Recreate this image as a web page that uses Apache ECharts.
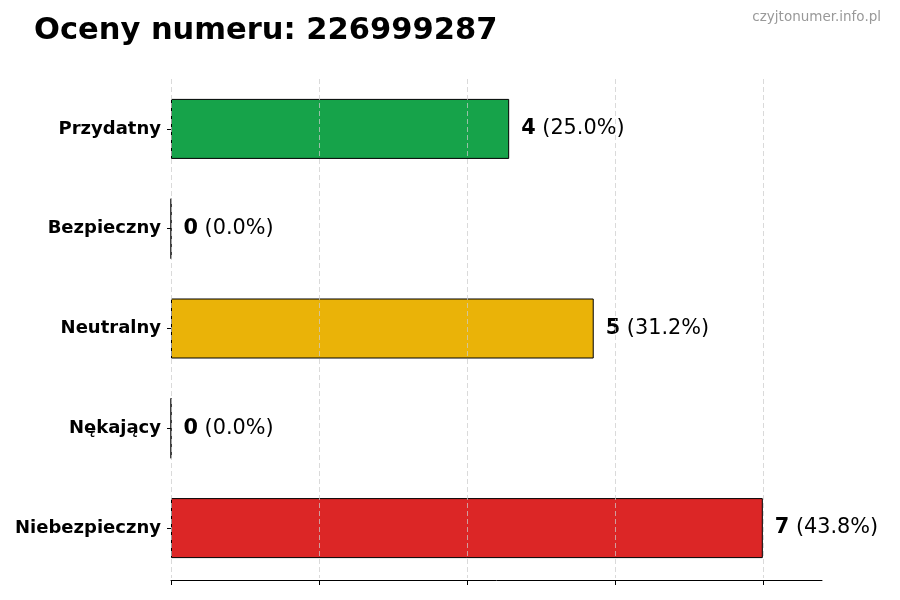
<!DOCTYPE html>
<html><head><meta charset="utf-8">
<script src="https://cdn.jsdelivr.net/npm/echarts@6/dist/echarts.min.js"></script>
<style>html,body{margin:0;padding:0;background:#fff}#c{width:900px;height:600px}</style>
</head><body><div id="c"></div>
<script>
const categories = ['Przydatny', 'Bezpieczny', 'Neutralny', 'Nękający', 'Niebezpieczny'];
const counts = [4, 0, 5, 0, 7];
const percents = ['25.0%', '0.0%', '31.2%', '0.0%', '43.8%'];
const colors = ['#16a34a', '#16a34a', '#eab308', '#dc2626', '#dc2626'];
const xTicks = [0, 1.75, 3.5, 5.25, 7];

const chart = echarts.init(document.getElementById('c'));
chart.setOption({
  animation: false,
  title: [
    { text: 'Oceny numeru: 226999287', left: 34, top: 16, padding: 0,
      textStyle: { fontFamily: 'DejaVu Sans', fontWeight: 'bold', fontSize: 30.5, color: '#000' } },
    { text: 'czyjtonumer.info.pl', right: 19, top: 10, padding: 0,
      textStyle: { fontFamily: 'DejaVu Sans', fontWeight: 'normal', fontSize: 13.5, color: '#999' } }
  ],
  grid: { left: 171, right: 78, top: 79, bottom: 22 },
  xAxis: {
    type: 'value', min: 0, max: 7.7, offset: 2,
    axisLine: { show: true, lineStyle: { color: '#000', width: 1 } },
    axisTick: { show: true, length: 5, customValues: xTicks, lineStyle: { color: '#000' } },
    axisLabel: { show: false },
    splitLine: { show: false }
  },
  yAxis: {
    type: 'category', data: categories, inverse: true,
    axisLine: { show: false },
    axisTick: { show: true, length: 4, alignWithLabel: true, lineStyle: { color: '#000' } },
    axisLabel: { fontFamily: 'DejaVu Sans', fontWeight: 'bold', fontSize: 18, color: '#000', margin: 10 }
  },
  series: [{
    type: 'bar', barWidth: 60,
    data: counts.map((v, i) => ({ value: v, itemStyle: { color: colors[i] } })),
    itemStyle: { borderColor: '#000', borderWidth: 1 },
    label: {
      show: true, position: 'right', distance: 12,
      formatter: p => '{b|' + p.value + '}{n| (' + percents[p.dataIndex] + ')}',
      rich: {
        b: { fontFamily: 'DejaVu Sans', fontWeight: 'bold', fontSize: 20.8, color: '#000' },
        n: { fontFamily: 'DejaVu Sans', fontSize: 20.8, color: '#000' }
      }
    },
    markLine: {
      silent: true, symbol: 'none', label: { show: false }, z: 10,
      lineStyle: { color: '#cccccc', type: [5, 3], width: 0.8, opacity: 0.9 },
      data: xTicks.map(v => ({ xAxis: v }))
    }
  }]
});
</script></body></html>
